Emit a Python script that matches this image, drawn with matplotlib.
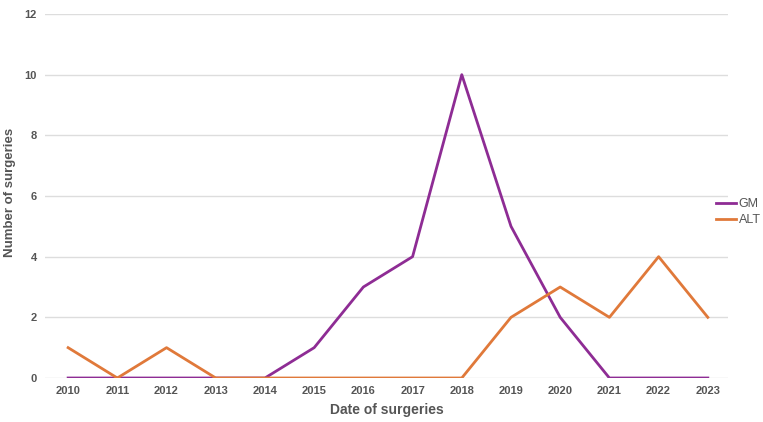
import matplotlib
matplotlib.use("Agg")
import matplotlib.pyplot as plt

plt.rcParams["font.family"] = ["Liberation Sans", "DejaVu Sans"]

years = list(range(2010, 2024))
gm = [0, 0, 0, 0, 0, 1, 3, 4, 10, 5, 2, 0, 0, 0]
alt = [1, 0, 1, 0, 0, 0, 0, 0, 0, 2, 3, 2, 4, 2]

fig = plt.figure(figsize=(7.63, 4.22), dpi=100)
ax = fig.add_axes([45 / 763, 1 - 378 / 422, (728 - 45) / 763, (378 - 14) / 422])

ax.plot(years, gm, color="#8e2c94", lw=2, label="GM", zorder=2)
ax.plot(years, alt, color="#e0793a", lw=2, label="ALT", zorder=3)

ax.set_xlim(2009.53, 2023.41)
ax.set_ylim(0, 12)
ax.set_yticks(range(0, 13, 2))
ax.set_xticks(years)
ax.grid(axis="y", color="#dddddd", lw=1)
ax.set_axisbelow(True)
for s in ax.spines.values():
    s.set_visible(False)
ax.tick_params(length=0, labelsize=8, labelcolor="#555555")
for lbl in ax.get_xticklabels() + ax.get_yticklabels():
    lbl.set_fontweight("bold")
ax.tick_params(axis="x", pad=6)
ax.tick_params(axis="y", pad=6)

ax.set_xlabel("Date of surgeries", fontsize=10, fontweight="bold", color="#555555", labelpad=5)
ax.set_ylabel("Number of surgeries", fontsize=9.5, fontweight="bold", color="#555555")
ax.yaxis.set_label_coords(-29 / 683, 0.51)

fig.legend(loc="center left", bbox_to_anchor=(716 / 763, 1 - 212 / 422), frameon=False,
           fontsize=9, handlelength=1.6, handletextpad=0.2, labelspacing=0.3,
           borderpad=0, borderaxespad=0, labelcolor="#555555")

fig.savefig("out.png", dpi=100)
